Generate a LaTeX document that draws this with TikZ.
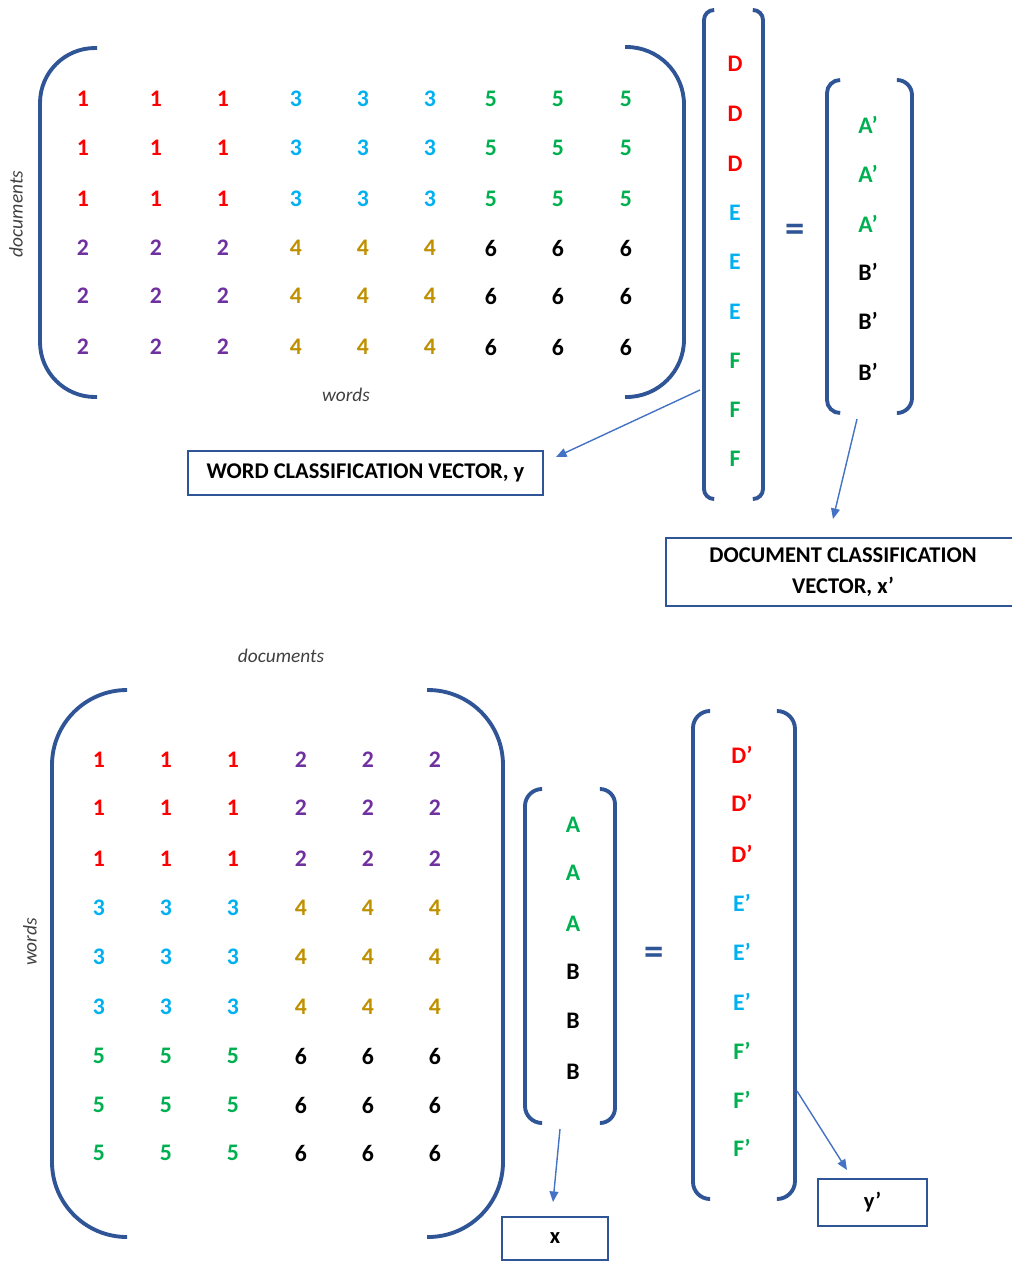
\documentclass[tikz,border=0pt]{standalone}
\usepackage{fontspec}
\setmainfont{Carlito}
\usetikzlibrary{arrows.meta}

\definecolor{cred}{HTML}{FF0000}
\definecolor{cpurple}{HTML}{7030A0}
\definecolor{ccyan}{HTML}{00B0F0}
\definecolor{cgold}{HTML}{BF9000}
\definecolor{cgreen}{HTML}{00B050}
\definecolor{cline}{HTML}{2F5597}
\definecolor{carrow}{HTML}{4472C4}
\colorlet{v1}{cred}
\colorlet{v2}{cpurple}
\colorlet{v3}{ccyan}
\colorlet{v4}{cgold}
\colorlet{v5}{cgreen}
\colorlet{v6}{black}

\begin{document}
\begin{tikzpicture}[x=0.2mm,y=-0.2mm,
    ent/.style={font=\fontsize{13.5}{16}\selectfont\bfseries},
    brk/.style={draw=cline,line width=2.2pt},
    lbl/.style={font=\fontsize{11}{13}\selectfont\itshape,text=black!75},
    eq/.style={font=\fontsize{22}{24}\selectfont\bfseries,text=cline},
    vbox/.style={draw=cline,line width=1pt,inner sep=0pt,
        font=\fontsize{12.8}{17.5}\selectfont\bfseries,align=center},
    ptr/.style={draw=carrow,line width=0.8pt,-{Triangle[length=6pt,width=5pt]}}]
    \clip(0,0)rectangle(1012,1261);

    \foreach \x [count=\c] in {83,156,223,296,363,430,491,558,626}
        \foreach \y [count=\r] in {99,148,199,248,296,347}{
            \pgfmathtruncatemacro{\v}{2*int((\c-1)/3)+int((\r-1)/3)+1}
            \node[ent,text=v\v] (t\r\c) at (\x,\y) {\v};
        }
    \draw[brk,rounded corners=11mm](97,48)--(40,48)--(40,397)--(97,397);
    \draw[brk,rounded corners=11.5mm](625,47)--(684,47)--(684,397)--(625,397);
    \node[lbl,rotate=90] (tdocs) at (16,214) {documents};
    \node[lbl] (twords) at (346,395) {words};

    \foreach \t/\y/\col [count=\i] in {D/64/cred,D/114/cred,D/164/cred,
        E/213/ccyan,E/262/ccyan,E/312/ccyan,F/361/cgreen,F/410/cgreen,F/459/cgreen}
        \node[ent,text=\col] (w\i) at (735,\y) {\t};
    \draw[brk,rounded corners=2mm](713,10)--(704,10)--(704,499)--(713,499);
    \draw[brk,rounded corners=2mm](753,10)--(763,10)--(763,499)--(753,499);

    \node[eq] (teq) at (795,233) {=};

    \foreach \t/\y/\col [count=\i] in {A’/125/cgreen,A’/174/cgreen,A’/224/cgreen,
        B’/272/black,B’/321/black,B’/372/black}
        \node[ent,text=\col] (d\i) at (868,\y) {\t};
    \draw[brk,rounded corners=2.6mm](840,80)--(827,80)--(827,413)--(840,413);
    \draw[brk,rounded corners=3mm](897,80)--(912,80)--(912,413)--(897,413);

    \node[vbox,minimum width=71mm,minimum height=8.8mm] (wbox) at (365.5,473)
        {WORD CLASSIFICATION VECTOR, y};
    \node[vbox,minimum width=70.8mm,minimum height=13.6mm] (dbox) at (843,572)
        {\raisebox{-2pt}{DOCUMENT CLASSIFICATION}\\\raisebox{-2pt}{VECTOR, x’}};
    \coordinate(wtail)at(700,390);
    \coordinate(wtip)at(556,457);
    \coordinate(dtail)at(857,419);
    \coordinate(dtip)at(833,519);
    \draw[ptr](wtail)--(wtip);
    \draw[ptr](dtail)--(dtip);

    \foreach \x [count=\c] in {99,166,233,301,368,435}
        \foreach \y [count=\r] in {760,808,859,908,957,1007,1056,1105,1153}{
            \pgfmathtruncatemacro{\v}{2*int((\r-1)/3)+int((\c-1)/3)+1}
            \node[ent,text=v\v] (b\r\c) at (\x,\y) {\v};
        }
    \draw[brk,rounded corners=15mm](127,690)--(52,690)--(52,1237)--(127,1237);
    \draw[brk,rounded corners=15mm](427,690)--(503,690)--(503,1237)--(427,1237);
    \node[lbl] (bdocs) at (281,656) {documents};
    \node[lbl,rotate=90] (bwords) at (30,942) {words};

    \foreach \t/\y/\col [count=\i] in {A/825/cgreen,A/873/cgreen,A/924/cgreen,
        B/972/black,B/1021/black,B/1072/black}
        \node[ent,text=\col] (x\i) at (573,\y) {\t};
    \draw[brk,rounded corners=3.4mm](542,789)--(525,789)--(525,1123)--(542,1123);
    \draw[brk,rounded corners=3mm](600,789)--(615,789)--(615,1123)--(600,1123);

    \node[eq] (beq) at (654,956) {=};

    \foreach \t/\y/\col [count=\i] in {D’/755/cred,D’/803/cred,D’/854/cred,
        E’/903/ccyan,E’/952/ccyan,E’/1002/ccyan,F’/1051/cgreen,F’/1100/cgreen,F’/1148/cgreen}
        \node[ent,text=\col] (y\i) at (742,\y) {\t};
    \draw[brk,rounded corners=3.4mm](710,711)--(693,711)--(693,1199)--(710,1199);
    \draw[brk,rounded corners=3.6mm](777,711)--(795,711)--(795,1199)--(777,1199);

    \node[vbox,minimum width=21.2mm,minimum height=8.6mm] (xbox) at (555,1238.5) {x};
    \node[vbox,minimum width=21.8mm,minimum height=9.4mm] (ybox) at (872.5,1202.5) {y’};
    \coordinate(xtail)at(560,1129);
    \coordinate(xtip)at(553,1202);
    \coordinate(ytail)at(797,1091);
    \coordinate(ytip)at(847,1170);
    \draw[ptr](xtail)--(xtip);
    \draw[ptr](ytail)--(ytip);
\end{tikzpicture}
\end{document}
